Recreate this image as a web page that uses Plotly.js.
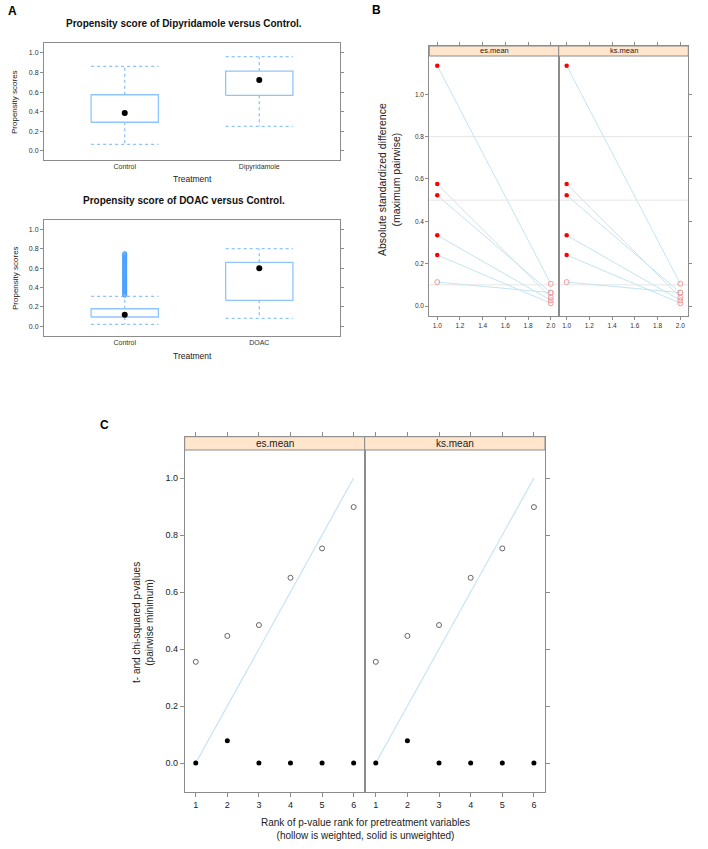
<!DOCTYPE html>
<html>
<head>
<meta charset="utf-8">
<script src="https://cdn.plot.ly/plotly-3.0.1.min.js"></script>
<style>html,body{margin:0;padding:0;background:#fff}#chart{width:708px;height:849px}</style>
</head>
<body>
<div id="chart"></div>
<script>
// ---------- DATA ----------
// Panel A (top): Dipyridamole vs Control
const dipyCats = ['Control', 'Dipyridamole'];
const dipyLo  = [0.068, 0.252];
const dipyQ1  = [0.293, 0.568];
const dipyMed = [0.388, 0.724];
const dipyQ3  = [0.574, 0.816];
const dipyHi  = [0.864, 0.962];

// Panel A (bottom): DOAC vs Control
const doacCats = ['Control', 'DOAC'];
const doacLo  = [0.020, 0.082];
const doacQ1  = [0.096, 0.268];
const doacMed = [0.120, 0.598];
const doacQ3  = [0.181, 0.660];
const doacHi  = [0.309, 0.800];
const doacControlOutliers = [0.32,0.33,0.34,0.35,0.36,0.37,0.38,0.39,0.40,0.41,0.42,0.43,0.44,0.45,0.46,0.47,0.48,0.49,0.50,0.51,0.52,0.53,0.54,0.55,0.56,0.57,0.58,0.59,0.60,0.61,0.62,0.63,0.64,0.65,0.66,0.67,0.68,0.69,0.70,0.71,0.72,0.73,0.74,0.75];

// Panel B: absolute standardized difference, unweighted (1) vs weighted (2)
const bStages = [1, 2];
const bStageTicks = [1.0, 1.2, 1.4, 1.6, 1.8, 2.0];
const esUnweighted = [1.135, 0.576, 0.523, 0.334, 0.241, 0.113];
const esWeighted   = [0.105, 0.041, 0.063, 0.027, 0.013, 0.063];
const esSignificant = [true, true, true, true, true, false];
const ksUnweighted = [1.135, 0.576, 0.523, 0.334, 0.241, 0.113];
const ksWeighted   = [0.105, 0.041, 0.063, 0.027, 0.013, 0.063];
const ksSignificant = [true, true, true, true, true, false];
const bRefLines = [0.1, 0.5, 0.8];
const bYTicks = [0.0, 0.2, 0.4, 0.6, 0.8, 1.0];

// Panel C: p-values by rank
const cRank = [1, 2, 3, 4, 5, 6];
const esPWeighted   = [0.355, 0.446, 0.484, 0.650, 0.753, 0.898];
const esPUnweighted = [0.000, 0.078, 0.000, 0.000, 0.000, 0.000];
const ksPWeighted   = [0.355, 0.446, 0.484, 0.650, 0.753, 0.898];
const ksPUnweighted = [0.000, 0.078, 0.000, 0.000, 0.000, 0.000];
const cUniformX = [1, 6];
const cUniformY = [0, 1];
const cYTicks = [0.0, 0.2, 0.4, 0.6, 0.8, 1.0];
const panelNames = ['es.mean', 'ks.mean'];

// ---------- helpers ----------
const W = 708, H = 849;
const px = x => x / W;
const py = y => 1 - y / H;
const FONT = 'Liberation Sans, Arial, sans-serif';
const FRAME = '#8c8c8c';
const BOXBLUE = '#8ec5ff';
const LIGHTBLUE = '#c4e4f2';

const traces = [];

function boxTraces(xa, ya, lo, q1, med, q3, hi) {
  const hw = 0.25;
  const bx = [], by = [], wx = [], wy = [];
  for (let i = 0; i < med.length; i++) {
    const c = i + 1;
    bx.push(c - hw, c + hw, c + hw, c - hw, c - hw, null);
    by.push(q1[i], q1[i], q3[i], q3[i], q1[i], null);
    wx.push(c, c, null, c, c, null, c - hw, c + hw, null, c - hw, c + hw, null);
    wy.push(q3[i], hi[i], null, q1[i], lo[i], null, hi[i], hi[i], null, lo[i], lo[i], null);
  }
  traces.push({x: wx, y: wy, xaxis: xa, yaxis: ya, mode: 'lines', line: {color: BOXBLUE, width: 1.3, dash: 'dot'}, hoverinfo: 'skip', showlegend: false});
  traces.push({x: bx, y: by, xaxis: xa, yaxis: ya, mode: 'lines', line: {color: BOXBLUE, width: 1.3}, hoverinfo: 'skip', showlegend: false});
  traces.push({x: med.map((_, i) => i + 1), y: med, xaxis: xa, yaxis: ya, mode: 'markers', marker: {color: '#000', size: 6}, showlegend: false});
}

boxTraces('x', 'y', dipyLo, dipyQ1, dipyMed, dipyQ3, dipyHi);
boxTraces('x2', 'y2', doacLo, doacQ1, doacMed, doacQ3, doacHi);
traces.push({x: doacControlOutliers.map(() => 1), y: doacControlOutliers, xaxis: 'x2', yaxis: 'y2', mode: 'markers',
  marker: {symbol: 'circle-open', color: '#4aa0ff', size: 4, line: {width: 1}}, showlegend: false});

function balanceTraces(xa, ya, unw, w, sig) {
  for (let i = 0; i < unw.length; i++) {
    traces.push({x: bStages, y: [unw[i], w[i]], xaxis: xa, yaxis: ya, mode: 'lines',
      line: {color: LIGHTBLUE, width: 1}, hoverinfo: 'skip', showlegend: false});
  }
  const sx = [], sy = [], hx = [], hy = [];
  for (let i = 0; i < unw.length; i++) {
    if (sig[i]) { sx.push(bStages[0]); sy.push(unw[i]); } else { hx.push(bStages[0]); hy.push(unw[i]); }
    hx.push(bStages[1]); hy.push(w[i]);
  }
  traces.push({x: sx, y: sy, xaxis: xa, yaxis: ya, mode: 'markers', marker: {color: '#ff0000', size: 4.5}, showlegend: false});
  traces.push({x: hx, y: hy, xaxis: xa, yaxis: ya, mode: 'markers', marker: {symbol: 'circle-open', color: '#f29a9a', size: 5, line: {width: 1}}, showlegend: false});
}
balanceTraces('x3', 'y3', esUnweighted, esWeighted, esSignificant);
balanceTraces('x4', 'y4', ksUnweighted, ksWeighted, ksSignificant);

function pvalTraces(xa, ya, wv, uv) {
  traces.push({x: cUniformX, y: cUniformY, xaxis: xa, yaxis: ya, mode: 'lines', line: {color: LIGHTBLUE, width: 1.2}, hoverinfo: 'skip', showlegend: false});
  traces.push({x: cRank, y: wv, xaxis: xa, yaxis: ya, mode: 'markers', marker: {symbol: 'circle-open', color: '#666', size: 5, line: {width: 1}}, showlegend: false});
  traces.push({x: cRank, y: uv, xaxis: xa, yaxis: ya, mode: 'markers', marker: {color: '#000', size: 5}, showlegend: false});
}
pvalTraces('x5', 'y5', esPWeighted, esPUnweighted);
pvalTraces('x6', 'y6', ksPWeighted, ksPUnweighted);

// ---------- axes ----------
function xax(l, r, range, anchor, opts) {
  return Object.assign({domain: [px(l), px(r)], range: range, anchor: anchor, showgrid: false, zeroline: false,
    showline: true, linecolor: FRAME, linewidth: 1, mirror: true, ticks: 'outside', ticklen: 3, tickcolor: FRAME,
    tickfont: {family: FONT, size: 7, color: '#333'}, fixedrange: true}, opts || {});
}
function yax(t, b, range, anchor, opts) {
  return Object.assign({domain: [py(b), py(t)], range: range, anchor: anchor, showgrid: false, zeroline: false,
    showline: true, linecolor: FRAME, linewidth: 1, mirror: 'ticks', ticks: 'outside', ticklen: 3, tickcolor: FRAME,
    tickfont: {family: FONT, size: 7, color: '#333'}, fixedrange: true}, opts || {});
}

const layout = {
  width: W, height: H, margin: {l: 0, r: 0, t: 0, b: 0}, paper_bgcolor: '#fff', plot_bgcolor: '#fff',
  showlegend: false, font: {family: FONT, color: '#222'},
  // Panel A top
  xaxis: xax(44, 340, [0.4, 2.6], 'y', {tickvals: [1, 2], ticktext: dipyCats, ticks: ''}),
  yaxis: yax(43, 160, [-0.092, 1.102], 'x', {tickvals: bYTicks, tickformat: '.1f'}),
  // Panel A bottom
  xaxis2: xax(44, 340, [0.4, 2.6], 'y2', {tickvals: [1, 2], ticktext: doacCats, ticks: ''}),
  yaxis2: yax(220, 336, [-0.1, 1.096], 'x2', {tickvals: bYTicks, tickformat: '.1f'}),
  // Panel B
  xaxis3: xax(429.3, 558.7, [0.93, 2.07], 'y3', {tickvals: bStageTicks, tickformat: '.1f', mirror: 'ticks', tickfont: {family: FONT, size: 6.5, color: '#333'}}),
  yaxis3: yax(46, 316, [-0.0472, 1.228], 'x3', {tickvals: bYTicks, tickformat: '.1f', mirror: true, tickfont: {family: FONT, size: 6.5, color: '#333'}}),
  xaxis4: xax(558.7, 688.3, [0.93, 2.07], 'y4', {tickvals: bStageTicks, tickformat: '.1f', mirror: 'ticks', tickfont: {family: FONT, size: 6.5, color: '#333'}}),
  yaxis4: yax(46, 316, [-0.0472, 1.228], 'x4', {tickvals: bYTicks, side: 'right', showticklabels: false, mirror: true}),
  // Panel C
  xaxis5: xax(184.7, 364.7, [0.65, 6.35], 'y5', {tickvals: cRank, mirror: 'ticks', ticklen: 4, tickfont: {family: FONT, size: 9, color: '#222'}}),
  yaxis5: yax(436.7, 791.7, [-0.1007, 1.145], 'x5', {tickvals: cYTicks, tickformat: '.1f', mirror: true, ticklen: 4, tickfont: {family: FONT, size: 9, color: '#222'}}),
  xaxis6: xax(364.7, 545, [0.65, 6.35], 'y6', {tickvals: cRank, mirror: 'ticks', ticklen: 4, tickfont: {family: FONT, size: 9, color: '#222'}}),
  yaxis6: yax(436.7, 791.7, [-0.1007, 1.145], 'x6', {tickvals: cYTicks, side: 'right', showticklabels: false, mirror: true, ticklen: 4}),
  shapes: [],
  annotations: []
};

// reference lines in panel B
[['x3', 'y3'], ['x4', 'y4']].forEach(([xa, ya]) => {
  bRefLines.forEach(v => layout.shapes.push({type: 'line', xref: xa + ' domain', yref: ya, x0: 0, x1: 1, y0: v, y1: v,
    line: {color: '#e6e6e6', width: 1}, layer: 'below'}));
});

// strips
function strip(xa, top, bottom, text, size) {
  layout.shapes.push({type: 'rect', xref: xa + ' domain', yref: 'paper', x0: 0, x1: 1, y0: py(bottom), y1: py(top),
    fillcolor: '#ffe5cc', line: {color: FRAME, width: 1}, layer: 'above'});
  layout.annotations.push({xref: xa + ' domain', yref: 'paper', x: 0.5, y: py((top + bottom) / 2), text: text,
    showarrow: false, font: {family: FONT, size: size, color: '#222'}, yanchor: 'middle'});
}
strip('x3', 46, 56, panelNames[0], 7.5);
strip('x4', 46, 56, panelNames[1], 7.5);
strip('x5', 436.7, 450, panelNames[0], 10);
strip('x6', 436.7, 450, panelNames[1], 10);

function ann(x, y, text, size, opts) {
  layout.annotations.push(Object.assign({xref: 'paper', yref: 'paper', x: px(x), y: py(y), text: text, showarrow: false,
    font: {family: FONT, size: size, color: '#222'}, xanchor: 'center', yanchor: 'middle'}, opts || {}));
}
// panel labels
ann(12, 11, '<b>A</b>', 12, {font: {family: FONT, size: 12, color: '#000'}});
ann(377, 10, '<b>B</b>', 12, {font: {family: FONT, size: 12, color: '#000'}});
ann(104, 425, '<b>C</b>', 12, {font: {family: FONT, size: 12, color: '#000'}});
// Panel A titles
ann(184, 24, '<b>Propensity score of Dipyridamole versus Control.</b>', 10, {font: {family: FONT, size: 10, color: '#111'}});
ann(184, 200.5, '<b>Propensity score of DOAC versus Control.</b>', 10, {font: {family: FONT, size: 10, color: '#111'}});
ann(192, 179, 'Treatment', 8.5);
ann(192, 356, 'Treatment', 8.5);
ann(15, 102, 'Propensity scores', 8, {textangle: -90});
ann(15, 278, 'Propensity scores', 8, {textangle: -90});
// Panel B y-title
ann(389, 180, 'Absolute standardized difference<br>(maximum pairwise)', 10.5, {textangle: -90});
// Panel C titles
ann(143, 623, 't- and chi-squared p-values<br>(pairwise minimum)', 10, {textangle: -90});
ann(365, 829, 'Rank of p-value rank for pretreatment variables<br>(hollow is weighted, solid is unweighted)', 10);

Plotly.newPlot('chart', traces, layout, {displayModeBar: false, staticPlot: true});
</script>
</body>
</html>
